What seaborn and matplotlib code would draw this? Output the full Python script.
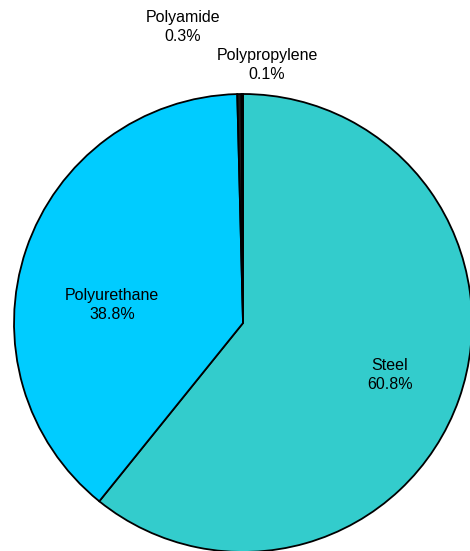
import matplotlib
matplotlib.use("Agg")
import matplotlib.pyplot as plt
import seaborn as sns

sns.set_style("white")
plt.rcParams['font.family'] = ['Liberation Sans', 'DejaVu Sans']

# data
materials = ['Steel', 'Polyurethane', 'Polyamide', 'Polypropylene']
shares = [60.8, 38.8, 0.3, 0.1]
colors = ['#33CCCC', '#00CCFF', '#1a1a1a', '#1a1a1a']

# label positions (pie radius units), like the Excel layout
label_pos = [(0.642, -0.227), (-0.572, 0.079), (-0.262, 1.293), (0.105, 1.127)]

fig = plt.figure(figsize=(4.70, 5.51), dpi=100)
ax = fig.add_axes([0.0298, -0.0018, 0.9745, 0.8312])

ax.pie(shares, colors=colors, startangle=90, counterclock=False,
       wedgeprops={'edgecolor': 'black', 'linewidth': 1.3})

for name, val, (x, y) in zip(materials, shares, label_pos):
    ax.text(x, y, f'{name}\n{val:.1f}%', ha='center', va='center',
            fontsize=11.5, linespacing=1.35, color='black')

ax.set_xlim(-1, 1)
ax.set_ylim(-1, 1)
ax.set_aspect('equal')
ax.axis('off')

fig.savefig('out.png', dpi=100, facecolor='white')
